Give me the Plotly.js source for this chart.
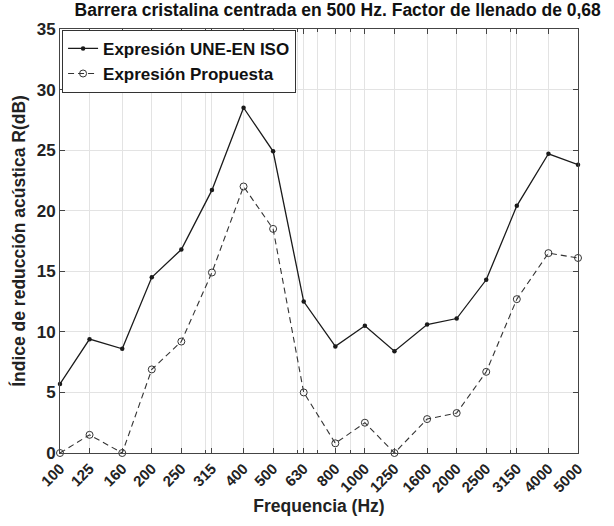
<!DOCTYPE html>
<html><head><meta charset="utf-8">
<script src="https://cdn.plot.ly/plotly-3.0.1.min.js"></script>
<style>body{margin:0;background:#fff}#c{width:614px;height:526px}</style>
</head><body><div id="c"></div>
<script>
var freqs = [100,125,160,200,250,315,400,500,630,800,1000,1250,1600,2000,2500,3150,4000,5000];
var tickLabels = ["100","125","160","200","250","315","400","500","630","800","1000","1250","1600","2000","2500","3150","4000","5000"];
var uneIso = [5.7,9.4,8.6,14.5,16.8,21.7,28.5,24.9,12.5,8.8,10.5,8.4,10.6,11.1,14.3,20.4,24.7,23.8];
var propuesta = [0,1.5,0,6.9,9.2,14.9,22.0,18.5,5.0,0.8,2.5,0,2.8,3.3,6.7,12.7,16.5,16.1];
var minorVals = [300,600,700,900,3000];
var yTicks = [0,5,10,15,20,25,30,35];

var F = "Liberation Sans, Arial, sans-serif";
var traces = [
  {x: freqs, y: uneIso, name: "Expresión UNE-EN ISO", type: "scatter", mode: "lines+markers",
   line: {color: "#1a1a1a", width: 1.3}, marker: {symbol: "circle", size: 4.5, color: "#1a1a1a"}, cliponaxis: false},
  {x: freqs, y: propuesta, name: "Expresión Propuesta", type: "scatter", mode: "lines+markers",
   line: {color: "#333", width: 1.1, dash: "6px,4px"},
   marker: {symbol: "circle-open", size: 7, color: "#333", line: {width: 1}}, cliponaxis: false}
];
var layout = {
  width: 614, height: 526,
  margin: {l: 60, r: 36, t: 29, b: 73},
  paper_bgcolor: "#fff", plot_bgcolor: "#fff",
  showlegend: true,
  title: {text: "Barrera cristalina centrada en 500 Hz. Factor de llenado de 0,68",
          font: {family: F, size: 17.5, weight: "bold", color: "#111"}, x: 0.55, xanchor: "center", y: 0.982, yanchor: "middle"},
  xaxis: {type: "log", range: [Math.log10(100), Math.log10(5000)],
          tickmode: "array", tickvals: freqs, ticktext: tickLabels, tickangle: -45,
          tickfont: {family: F, size: 15, weight: "bold", color: "#222"},
          showgrid: true, gridcolor: "#e3e3e3", gridwidth: 1,
          minor: {tickmode: "array", tickvals: minorVals, showgrid: true, gridcolor: "#e3e3e3", ticks: "inside", ticklen: 3, tickcolor: "#444"},
          ticks: "inside", ticklen: 5, tickcolor: "#444",
          showline: true, linecolor: "#444", linewidth: 1, mirror: "ticks", zeroline: false,
          title: {text: "Frequencia (Hz)", font: {family: F, size: 17.5, weight: "bold", color: "#222"}, standoff: 4}},
  yaxis: {range: [0, 35], tickmode: "array", tickvals: yTicks,
          tickfont: {family: F, size: 17, weight: "bold", color: "#222"},
          showgrid: true, gridcolor: "#e3e3e3", gridwidth: 1,
          ticks: "inside", ticklen: 5, tickcolor: "#444",
          showline: true, linecolor: "#444", linewidth: 1, mirror: "ticks", zeroline: false,
          title: {text: "Índice de reducción acústica R(dB)", font: {family: F, size: 17.5, weight: "bold", color: "#222"}, standoff: 6}},
  legend: {x: 0.004, y: 0.998, xanchor: "left", yanchor: "top",
           bgcolor: "#fff", bordercolor: "#333", borderwidth: 1,
           font: {family: F, size: 17, weight: "bold", color: "#111"}, tracegroupgap: 8}
};
Plotly.newPlot("c", traces, layout, {displayModeBar: false});
</script></body></html>
